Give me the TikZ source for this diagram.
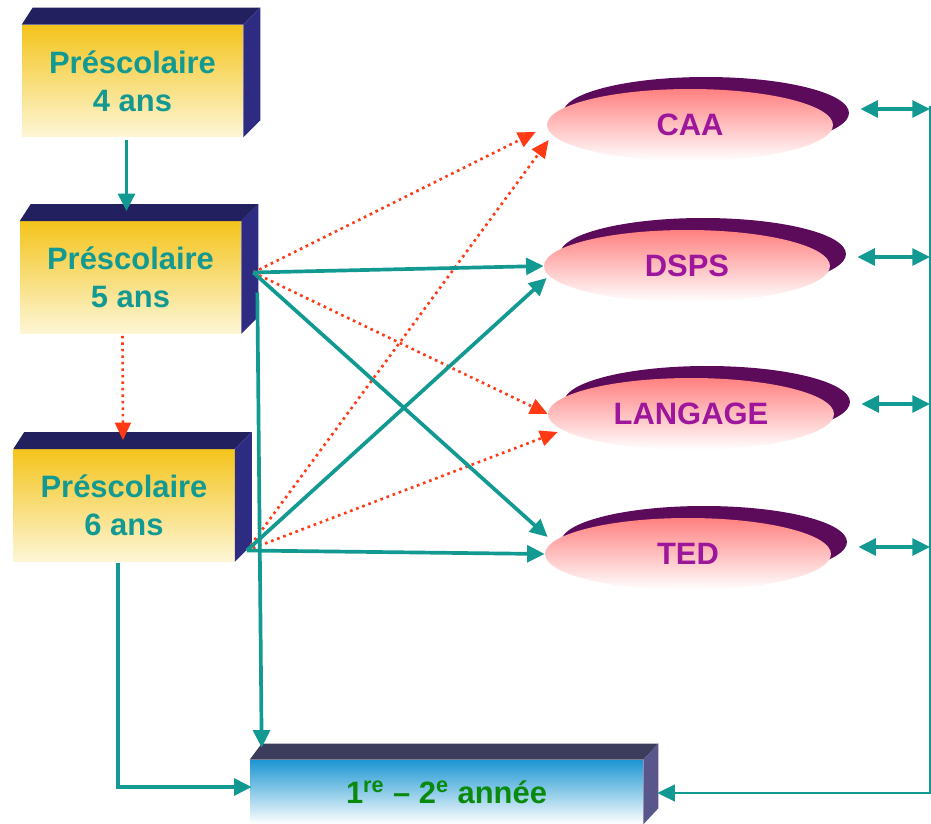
\documentclass[tikz,border=0pt]{standalone}
\usepackage{fontspec}
\setmainfont{Liberation Sans}
\usetikzlibrary{arrows.meta,shapes.geometric}

\definecolor{linkteal}{RGB}{18,153,146}
\definecolor{linkred}{RGB}{255,58,20}
\definecolor{boxgold}{RGB}{244,196,28}
\definecolor{boxcream}{RGB}{253,246,214}
\definecolor{boxtopblue}{RGB}{34,32,94}
\definecolor{boxsideblue}{RGB}{46,43,130}
\definecolor{ellpink}{RGB}{255,128,128}
\definecolor{ellplum}{RGB}{92,10,90}
\definecolor{ellpurple}{RGB}{158,22,156}
\definecolor{yearblue}{RGB}{28,150,210}
\definecolor{yeartop}{RGB}{60,60,92}
\definecolor{yearside}{RGB}{88,86,138}
\definecolor{yeargreen}{RGB}{10,138,12}

\tikzset{
    bigfont/.style={font=\fontsize{17.6}{21.5}\selectfont\bfseries},
    schoolbox/.style={rectangle, minimum width=4.42cm, minimum height=2.24cm,
        top color=boxgold, bottom color=boxcream, text=linkteal, align=center, bigfont},
    serviceell/.style={ellipse, minimum width=5.72cm, minimum height=1.44cm,
        top color=ellpink, bottom color=white, text=ellpurple, bigfont,
        preaction={fill=ellplum, transform canvas={shift={(16,-12)}}}},
    yearbox/.style={rectangle, minimum width=7.86cm, minimum height=1.28cm,
        top color=yearblue, bottom color=white, text=yeargreen, bigfont},
    teallink/.style={draw=linkteal, line width=2.1pt, -{Triangle[length=10pt,width=9.5pt]}},
    redlink/.style={draw=linkred, line width=1.5pt, dash pattern=on 1.5pt off 2.2pt,
        -{Triangle[length=10pt,width=9pt]}}
}

\begin{document}
\begin{tikzpicture}[x=0.02cm, y=-0.02cm]
        \useasboundingbox (0,0) rectangle (931,824);
        % preschool boxes
        \node[schoolbox] (pre4) at (132.5,81) {Préscolaire\\4 ans};
        \node[schoolbox] (pre5) at (130.5,277.5) {Préscolaire\\5 ans};
        \node[schoolbox] (pre6) at (124,505.5) {Préscolaire\\6 ans};
        \foreach \b in {pre4,pre5,pre6} {
            \fill[boxtopblue] (\b.north west) -- ++(11,-17) -- ([shift={(17,-17)}]\b.north east) -- (\b.north east) -- cycle;
            \fill[boxsideblue] (\b.north east) -- ++(17,-17) -- ([shift={(17,-17)}]\b.south east) -- (\b.south east) -- cycle;
        }
        % services
        \node[serviceell] (caa) at (690,125) {CAA};
        \node[serviceell] (dsps) at (687,266) {DSPS};
        \node[serviceell] (langage) at (691,414) {LANGAGE};
        \node[serviceell] (ted) at (688,554) {TED};
        % school year
        \node[yearbox] (annee) at (446.5,792) {1\textsuperscript{re} – 2\textsuperscript{e} année};
        \fill[yeartop] (annee.north west) -- ++(12,-16) -- ([shift={(15,-16)}]annee.north east) -- (annee.north east) -- cycle;
        \fill[yearside] (annee.north east) -- ++(15,-16) -- ([shift={(15,-16)}]annee.south east) -- (annee.south east) -- cycle;

        \coordinate (out5) at ([shift={(12,-5)}]pre5.east);
        \coordinate (out6) at ([shift={(12,45)}]pre6.east);
        \coordinate (bustop) at (930,106);
        \coordinate (busfoot) at (930,793);

        \draw[teallink] ([shift={(-6,3)}]pre4.south) -- ([shift={(-4,-10)}]pre5.north);
        \draw[redlink] ([shift={(-8,2)}]pre5.south) -- ([shift={(-1,-9)}]pre6.north);

        \draw[redlink] (out5) -- ([shift={(-11,7)}]caa.west);
        \draw[redlink] (out5) -- (langage.west);
        \draw[redlink] (out6) -- ([shift={(2,15)}]caa.west);
        \draw[redlink] (out6) -- ([shift={(10,18)}]langage.west);
        \draw[teallink] (out5) -- (dsps.west);
        \draw[teallink] (out5) -- ([shift={(3,-17)}]ted.west);
        \draw[teallink] (out6) -- ([shift={(3,12)}]dsps.west);
        \draw[teallink] (out6) -- (ted.west);

        \draw[teallink] ([shift={(16,15)}]pre5.east) -- ([shift={(12,-12)}]annee.north west);
        \draw[teallink] ([shift={(-6,1)}]pre6.south) |- ([shift={(2,-5)}]annee.west);

        \draw[teallink, line width=1.3pt] (bustop) -- (busfoot) -- ([shift={(14,1)}]annee.east);
        \foreach \s/\dy in {caa/-16, dsps/-9, langage/-10, ted/-7} {
            \coordinate (lnk) at ([shift={(27,\dy)}]\s.east);
            \draw[teallink, {Triangle[length=10pt,width=9.5pt]}-{Triangle[length=10pt,width=9.5pt]}] (lnk) -- (lnk -| bustop);
        }
    \end{tikzpicture}
\end{document}
